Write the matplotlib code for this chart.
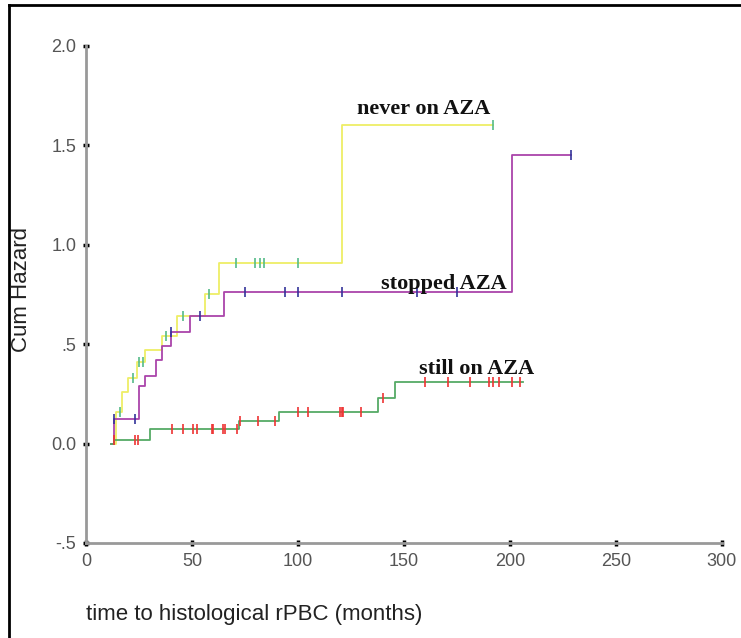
import matplotlib
matplotlib.use('Agg')
import matplotlib.pyplot as plt
from matplotlib.lines import Line2D

# Cumulative hazard step curves (time in months)
never_t = [12, 14, 17, 20, 24, 28, 36, 43, 56, 63, 121, 192]
never_h = [0.0, 0.16, 0.26, 0.33, 0.41, 0.47, 0.54, 0.64, 0.75, 0.91, 1.60, 1.60]
never_cens_t = [16, 22, 25, 27, 38, 46, 58, 71, 80, 82, 84, 100, 192]
never_cens_h = [0.16, 0.33, 0.41, 0.41, 0.54, 0.64, 0.75, 0.91, 0.91, 0.91, 0.91, 0.91, 1.60]

stopped_t = [12, 13, 25, 28, 33, 36, 40, 49, 65, 201, 229]
stopped_h = [0.0, 0.125, 0.29, 0.34, 0.42, 0.49, 0.56, 0.64, 0.76, 1.45, 1.45]
stopped_cens_t = [13, 23, 40, 54, 75, 94, 100, 121, 156, 175, 229]
stopped_cens_h = [0.125, 0.125, 0.56, 0.64, 0.76, 0.76, 0.76, 0.76, 0.76, 0.76, 1.45]

still_t = [12, 13, 30, 72, 91, 138, 146, 206]
still_h = [0.0, 0.02, 0.075, 0.115, 0.16, 0.23, 0.31, 0.31]
still_cens_t = [13, 23, 24.5, 40.6, 45.8, 50.5, 52.4, 59.4, 60, 64.6, 65.6, 71.2,
                72.6, 81, 89, 100, 104.7, 120, 121, 121.5, 130, 140,
                160, 171, 181, 190, 192, 195, 201, 205]
still_cens_h = [0.02, 0.02, 0.02] + [0.075] * 9 + [0.115] * 3 + [0.16] * 6 + [0.23] + [0.31] * 8

x_ticks = [0, 50, 100, 150, 200, 250, 300]
y_ticks = [-0.5, 0.0, 0.5, 1.0, 1.5, 2.0]
y_tick_labels = ['-.5', '0.0', '.5', '1.0', '1.5', '2.0']

fig = plt.figure(figsize=(7.41, 6.38), dpi=100)
ax = fig.add_axes([0.116, 0.149, 0.858, 0.779])

ax.step(never_t, never_h, where='post', color='#eeee66', lw=1.3)
ax.plot(never_cens_t, never_cens_h, ls='none', marker='|', ms=7, mew=1.2, color='#55bb88')

ax.step(stopped_t, stopped_h, where='post', color='#aa44aa', lw=1.3)
ax.plot(stopped_cens_t, stopped_cens_h, ls='none', marker='|', ms=7, mew=1.2, color='#333399')

ax.step(still_t, still_h, where='post', color='#55aa66', lw=1.3)
ax.plot(still_cens_t, still_cens_h, ls='none', marker='|', ms=7, mew=1.2, color='#ee3333')

lab_font = dict(family='Liberation Serif', fontweight='bold', fontsize=16, color='#111111')
ax.text(128, 1.685, 'never on AZA', va='center', ha='left', **lab_font)
ax.text(139, 0.805, 'stopped AZA', va='center', ha='left', **lab_font)
ax.text(157, 0.375, 'still on AZA', va='center', ha='left', **lab_font)

ax.set_xlim(0, 300)
ax.set_ylim(-0.5, 2.0)
ax.set_xticks(x_ticks)
ax.set_yticks(y_ticks)
ax.set_yticklabels(y_tick_labels)

for side in ['top', 'right']:
    ax.spines[side].set_visible(False)
for side in ['left', 'bottom']:
    ax.spines[side].set_color('#999999')
    ax.spines[side].set_linewidth(2)

ax.tick_params(direction='inout', length=4, width=2.5, color='black',
               labelcolor='#555555', labelsize=13, pad=5)
for lbl in ax.get_xticklabels() + ax.get_yticklabels():
    lbl.set_family('Liberation Sans')

ax.set_xlabel('time to histological rPBC (months)', fontsize=16, family='Liberation Sans',
              color='#222222', loc='left', labelpad=25)
ax.set_ylabel('Cum Hazard', fontsize=16, family='Liberation Sans', color='#222222')
ax.yaxis.set_label_coords(-0.085, 0.51)

# frame of the original figure (left and top edges)
fig.add_artist(Line2D([0.012, 0.012], [0, 0.992], color='black', lw=2))
fig.add_artist(Line2D([0.012, 1.0], [0.992, 0.992], color='black', lw=2))

plt.savefig('out.png', dpi=100)
